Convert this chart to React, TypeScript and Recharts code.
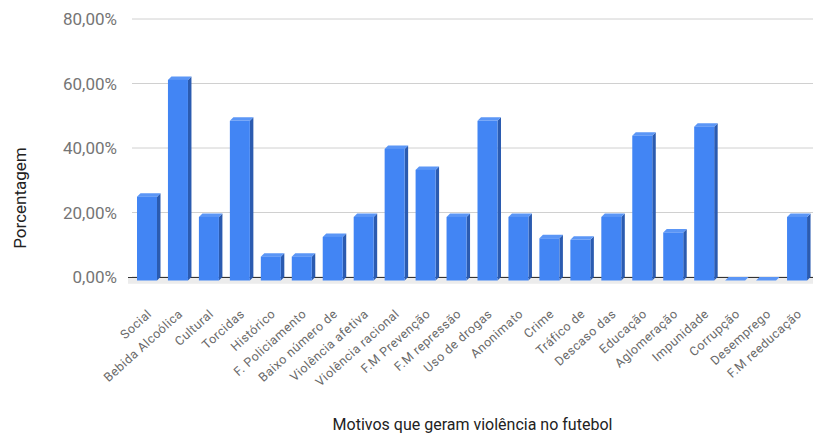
import React from 'react';
import { BarChart, Bar, XAxis, YAxis, CartesianGrid, ReferenceArea } from 'recharts';

const categories = [
  'Social', 'Bebida Alcoólica', 'Cultural', 'Torcidas', 'Histórico', 'F. Policiamento',
  'Baixo número de', 'Violência afetiva', 'Violência racional', 'F.M Prevenção', 'F.M repressão',
  'Uso de drogas', 'Anonimato', 'Crime', 'Tráfico de', 'Descaso das', 'Educação',
  'Aglomeração', 'Impunidade', 'Corrupção', 'Desemprego', 'F.M reeducação',
];

const percentages = [
  26.0, 62.2, 19.7, 49.5, 7.4, 7.4, 13.5, 19.7, 40.8, 34.3, 19.7,
  49.5, 19.7, 13.1, 12.6, 19.7, 44.9, 14.9, 47.7, 0, 0, 19.7,
];

const yTicks = [0, 20, 40, 60, 80];

const data = categories.map((motivo, i) => ({ motivo, valor: percentages[i] }));

const DEPTH = 3.5;

// column with a darker right side and a lighter cap, like a 3D column chart
const Column3D = (props: any) => {
  const { x, y, width, height } = props;
  const h = Math.max(height, 0);
  const d = DEPTH;
  return (
    <g>
      <polygon
        points={`${x + width},${y + d} ${x + width + d},${y} ${x + width + d},${y + h} ${x + width},${y + h + d}`}
        fill="#2b5bb0"
      />
      <polygon
        points={`${x},${y + d} ${x + d},${y} ${x + width + d},${y} ${x + width},${y + d}`}
        fill="#5b96f6"
      />
      <rect x={x} y={y + d} width={width} height={h} fill="#4285f4" />
    </g>
  );
};

// grey floor under the columns, with the dark baseline on its back edge
const Floor = (props: any) => {
  const { x, y, width, height } = props;
  return (
    <g>
      <rect x={x - 4} y={y} width={width + 4} height={height} fill="#ececec" />
      <line x1={x - 4} x2={x + width} y1={y + 0.5} y2={y + 0.5} stroke="#333" strokeWidth={1} />
    </g>
  );
};

const SlantedTick = (props: any) => {
  const { x, y, payload } = props;
  return (
    <g transform={`translate(${x + 5},${y + 30})`}>
      <text
        transform="rotate(-42)"
        textAnchor="end"
        fontSize={12.5}
        letterSpacing={0.5}
        fill="#6a6a6a"
        fontFamily="Roboto"
      >
        {payload.value}
      </text>
    </g>
  );
};

const fmt = (v: number) => v.toFixed(2).replace('.', ',') + '%';

export default function App() {
  return (
    <div style={{ width: 813, height: 438, background: '#fff', position: 'absolute', left: 0, top: 0 }}>
      <style>{`body{margin:0}`}</style>
      <BarChart
        width={813}
        height={438}
        data={data}
        margin={{ top: 19, right: 0, left: 0, bottom: 0 }}
        barSize={20}
      >
        <CartesianGrid vertical={false} stroke="#d0d0d0" />
        <ReferenceArea y1={-2.1} y2={0} ifOverflow="visible" shape={<Floor />} />
        <XAxis
          dataKey="motivo"
          interval={0}
          height={161}
          axisLine={false}
          tickLine={false}
          tick={<SlantedTick />}
          label={{
            value: 'Motivos que geram violência no futebol',
            position: 'insideBottom',
            offset: 8,
            fill: '#222',
            fontSize: 16,
            fontFamily: 'Roboto',
          }}
        />
        <YAxis
          width={132}
          domain={[0, 80]}
          ticks={yTicks}
          tickFormatter={fmt}
          axisLine={false}
          tickLine={false}
          tickMargin={9}
          tick={{ fill: '#757575', fontSize: 17, fontFamily: 'Roboto' }}
          label={{
            content: () => (
              <text
                x={20}
                y={198}
                transform="rotate(-90 20 198)"
                textAnchor="middle"
                dominantBaseline="central"
                fontSize={17}
                fill="#222"
                fontFamily="Roboto"
              >
                Porcentagem
              </text>
            ),
          }}
        />
        <Bar dataKey="valor" shape={<Column3D />} isAnimationActive={false} />
      </BarChart>
    </div>
  );
}
